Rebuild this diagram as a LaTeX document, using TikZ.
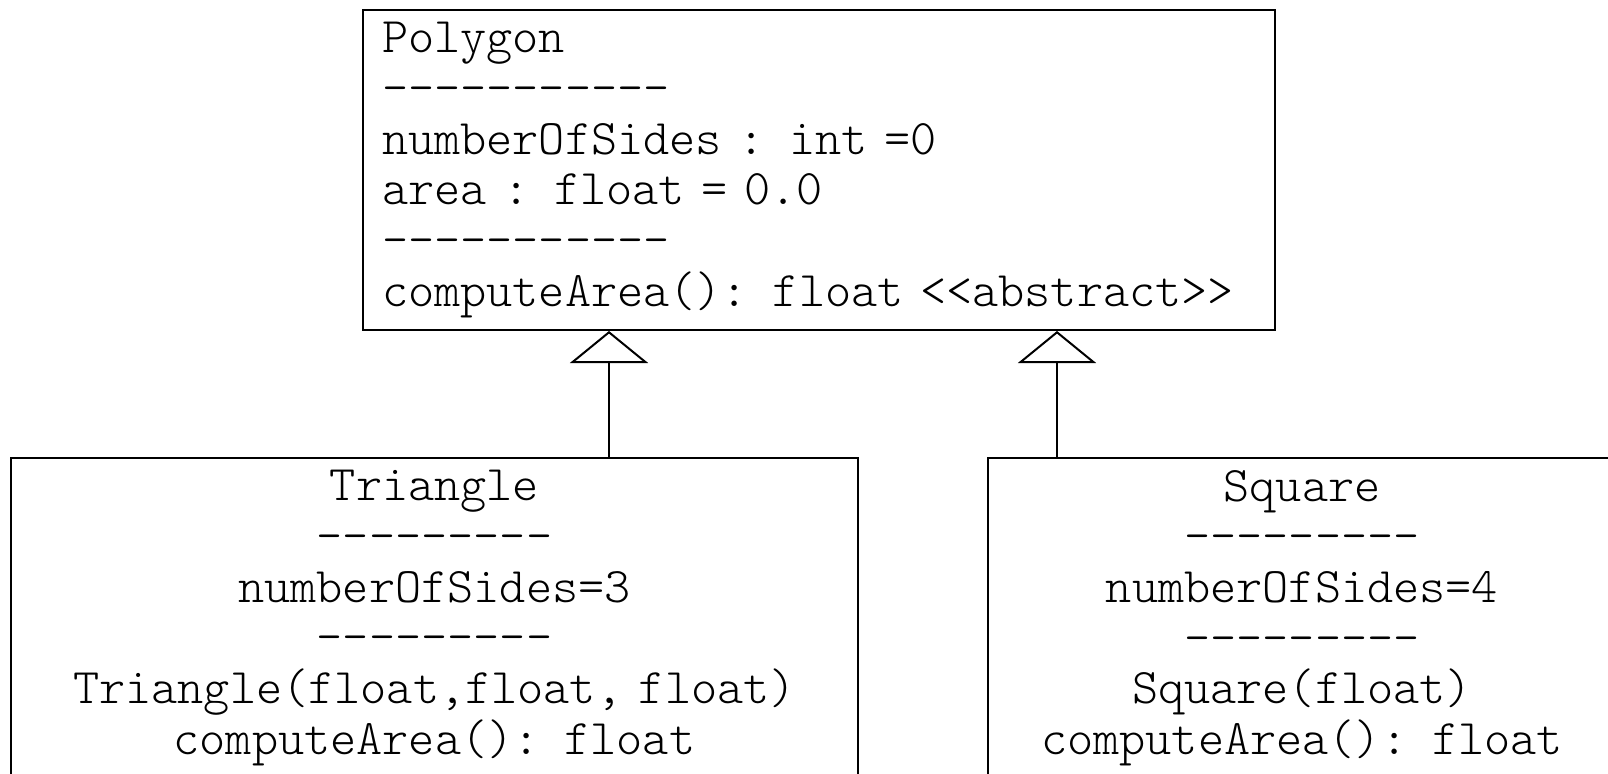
\documentclass[tikz,border=0pt]{standalone}
\usepackage{tikz}
\usetikzlibrary{arrows.meta,positioning,calc}
\newcommand{\umlfont}{\ttfamily\fontseries{l}\fontsize{24.9}{25.35}\selectfont}

\begin{document}
\begin{tikzpicture}[x=1pt,y=1pt,
    cls/.style={rectangle, draw, line width=1pt, minimum height=160pt, inner xsep=9.5pt, inner ysep=0pt, font=\umlfont},
    extends/.style={line width=1pt, -{Triangle[open, width=39pt, length=16pt, line width=1pt]}}
]
    \clip (0,0) rectangle (804,386.5);

    % Base class
    \node[cls, anchor=north west, text width=437pt, align=left] (Polygon) at (181,382) {Polygon\\
        -----------\\
        numberOfSides : int =0\\
        area : float = 0.0\\
        -----------\\
        computeArea(): float <<abstract>>};

    % Subclasses
    \node[cls, anchor=north west, text width=404.5pt, align=center] (Triangle) at (5,158) {Triangle\\
        ---------\\
        numberOfSides=3\\
        ---------\\
        Triangle(float,float, float)\\
        computeArea(): float};
    \node[cls, anchor=north west, text width=295pt, align=center] (Square) at (493.5,158) {Square\\
        ---------\\
        numberOfSides=4\\
        ---------\\
        Square(float)\\
        computeArea(): float};

    % Inheritance
    \path (Triangle.north west) ++(299.5,0) coordinate (triUp);
    \path (Square.north west) ++(35,0) coordinate (sqUp);
    \draw[extends] (triUp) -- (triUp |- Polygon.south);
    \draw[extends] (sqUp) -- (sqUp |- Polygon.south);

\end{tikzpicture}
\end{document}
